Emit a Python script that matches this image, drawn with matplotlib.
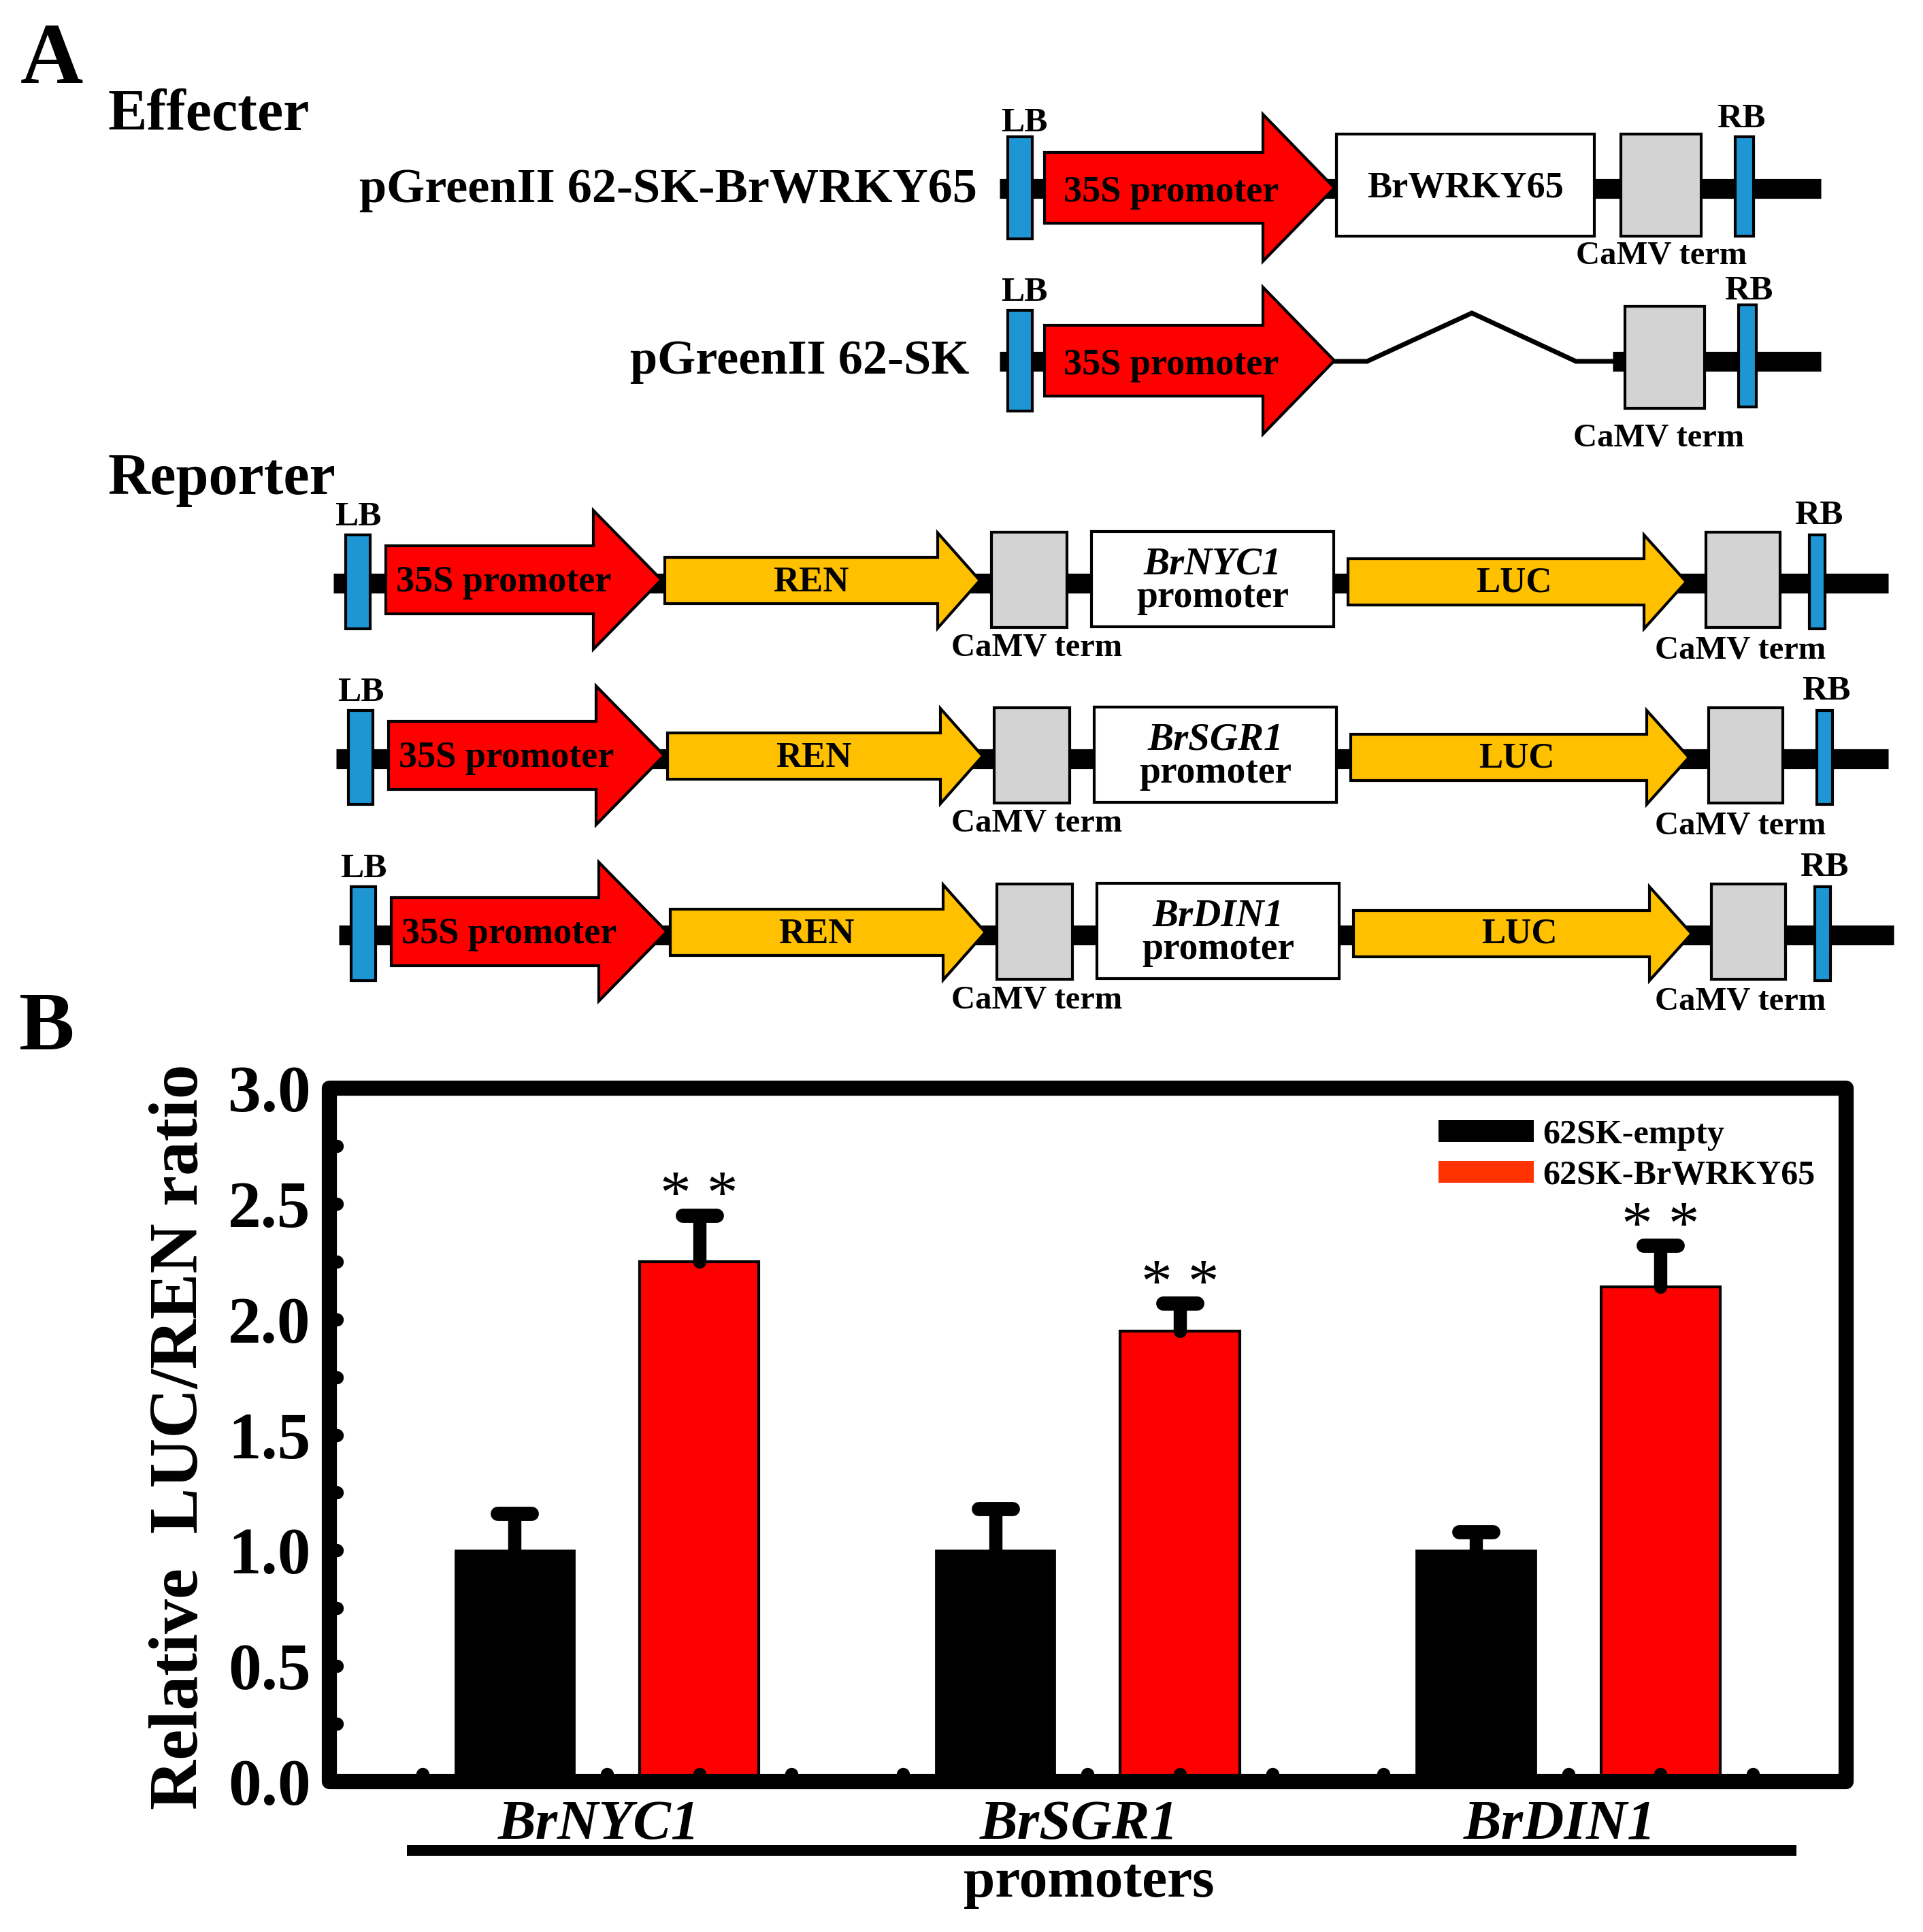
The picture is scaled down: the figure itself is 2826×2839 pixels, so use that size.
import numpy as np
import matplotlib
matplotlib.use("Agg")
import matplotlib.pyplot as plt
from matplotlib.patches import Rectangle, Polygon, Patch
from matplotlib.markers import MarkerStyle
from matplotlib.transforms import ScaledTranslation

plt.rcParams['font.family'] = ['Liberation Serif', 'DejaVu Serif']

# ---- data (panel B) ----
promoters = ['BrNYC1', 'BrSGR1', 'BrDIN1']
series_labels = ['62SK-empty', '62SK-BrWRKY65']
empty_vals = [1.00, 1.00, 1.00]
empty_err = [0.16, 0.18, 0.08]
wrky_vals = [2.25, 1.95, 2.14]
wrky_err = [0.20, 0.12, 0.18]
signif = ['* *', '* *', '* *']
ytick_vals = [0.0, 0.5, 1.0, 1.5, 2.0, 2.5, 3.0]

RED = '#ff0000'
YEL = '#ffc000'
GRY = '#d3d3d3'
BLU = '#1e96d4'

fig = plt.figure(figsize=(28.26, 28.39), dpi=100)

# ---- panel A: construct schematics, drawn in pixel coordinates ----
d = fig.add_axes([0, 0, 1, 1])
d.set_xlim(0, 2826)
d.set_ylim(2839, 0)
d.axis('off')


def rect(x0, x1, yc, h, fc):
    d.add_patch(Rectangle((x0, yc - h), x1 - x0, 2 * h, fc=fc, ec='k', lw=3, zorder=2))


def arrow(x0, xb, xt, yc, hb, hh, fc):
    pts = [(x0, yc - hb), (xb, yc - hb), (xb, yc - hh), (xt, yc),
           (xb, yc + hh), (xb, yc + hb), (x0, yc + hb)]
    d.add_patch(Polygon(pts, closed=True, fc=fc, ec='k', lw=3, joinstyle='miter', zorder=2))


def backbone(x0, x1, y):
    d.plot([x0, x1], [y, y], color='k', lw=21, solid_capstyle='butt', zorder=1)


def label(x, y, s, size, ha='center', weight='bold', style='normal'):
    d.text(x, y, s, fontsize=size, ha=ha, va='baseline', fontweight=weight,
           fontstyle=style, zorder=3)


label(30, 122, 'A', 92, ha='left')
label(159, 191, 'Effecter', 62, ha='left')
label(159, 726, 'Reporter', 62, ha='left')
label(28, 1542, 'B', 88, ha='left')

# effector with BrWRKY65
yc = 276
backbone(1469, 2676, yc + 1)
rect(1481, 1517, yc, 75, BLU)
arrow(1535, 1856, 1961, yc, 52, 108, RED)
rect(1964, 2343, yc - 4, 75, 'white')
rect(2382, 2500, yc - 4, 75, GRY)
rect(2550, 2577, yc - 2, 73, BLU)
label(1436, yc + 21, 'pGreenII 62-SK-BrWRKY65', 52, ha='right')
label(1505, 193, 'LB', 37)
label(2559, 187, 'RB', 37)
label(1721, yc + 20, '35S promoter', 39)
label(2154, yc + 14, 'BrWRKY65', 39)
label(2442, 388, 'CaMV term', 35)

# empty effector
yc = 530
backbone(1469, 1535, yc + 1)
backbone(2370, 2676, yc + 1)
d.plot([1961, 2009, 2163, 2316, 2370], [yc + 1, yc + 1, 460, yc + 1, yc + 1],
       color='k', lw=5, solid_joinstyle='miter', zorder=1)
rect(1481, 1517, yc, 74, BLU)
arrow(1535, 1856, 1961, yc, 52, 108, RED)
rect(2388, 2505, yc - 5, 75, GRY)
rect(2555, 2581, yc - 7, 75, BLU)
label(1424, yc + 19, 'pGreenII 62-SK', 52, ha='right')
label(1505, 442, 'LB', 37)
label(2570, 440, 'RB', 37)
label(1721, yc + 20, '35S promoter', 39)
label(2438, 656, 'CaMV term', 35)

# reporters
rep_y = [852, 1110, 1369]
rep_dx = [0, 4, 8]
rep_rb = [2659, 2670, 2667]
rep_end = [2775, 2775, 2783]
for gene, yc, dx, rb, xe in zip(promoters, rep_y, rep_dx, rep_rb, rep_end):
    backbone(490 + dx, xe, yc + 5)
    rect(508 + dx, 544 + dx, yc + 3, 69, BLU)
    arrow(567 + dx, 872 + dx, 972 + dx, yc, 50, 102, RED)
    arrow(977 + dx, 1378 + dx, 1440 + dx, yc + 1, 34, 70, YEL)
    rect(1457 + dx, 1568 + dx, yc, 70, GRY)
    rect(1604 + dx, 1960 + dx, yc - 1, 70, 'white')
    arrow(1981 + dx, 2416 + dx, 2478 + dx, yc + 3, 34, 69, YEL)
    rect(2507 + dx, 2616 + dx, yc, 70, GRY)
    rect(rb, rb + 23, yc + 3, 69, BLU)
    label(526 + dx, yc - 80, 'LB', 37)
    label(rb + 14, yc - 82, 'RB', 37)
    label(740 + dx, yc + 17, '35S promoter', 39)
    label(1192 + dx, yc + 17, 'REN', 38)
    label(2225 + dx, yc + 17, 'LUC', 38)
    label(1782 + dx, yc - 8, gene, 41, style='italic')
    label(1782 + dx, yc + 40, 'promoter', 40)
    label(1524, yc + 112, 'CaMV term', 35)
    label(2558, yc + 115, 'CaMV term', 35)

# group underline and axis title under panel B
d.plot([598, 2640], [2719, 2719], color='k', lw=11.5, solid_capstyle='butt')
label(1600, 2787, 'promoters', 60)

# ---- panel B: bar chart ----
ax = fig.add_axes([0.1714, 0.0778, 0.7886, 0.359])
x = np.arange(len(promoters))
off = 0.192
w = 0.248

ax.bar(x - off, empty_vals, w, color='black', edgecolor='black', lw=2,
       label=series_labels[0], zorder=1)
ax.bar(x + off, wrky_vals, w, color=RED, edgecolor='black', lw=3,
       label=series_labels[1], zorder=1)

for xs, vals, errs in [(x - off, empty_vals, empty_err), (x + off, wrky_vals, wrky_err)]:
    vals = np.array(vals)
    errs = np.array(errs)
    eb = ax.errorbar(xs, vals, yerr=[np.zeros_like(errs), errs], fmt='none',
                     ecolor='black', elinewidth=14, capsize=0, zorder=3)
    eb.lines[2][0].set_capstyle('round')
    ax.plot(xs, vals + errs, ls='none', color='black',
            marker=MarkerStyle('_', capstyle='round'), ms=36, mew=15, zorder=3)

for xi, v, e, s in zip(x + off, wrky_vals, wrky_err, signif):
    ax.annotate(s, xy=(xi, v + e), xytext=(0, -12), textcoords='offset points',
                ha='center', va='bottom', fontsize=66)

ax.set_xlim(-0.577, 2.578)
ax.set_ylim(0, 3.0)
ax.set_yticks(ytick_vals)
ax.set_yticklabels(['%.1f' % v for v in ytick_vals])
ax.set_yticks(np.arange(0.25, 3.0, 0.5), minor=True)
ax.set_xticks(x)
ax.set_xticklabels(promoters)
ax.set_xticks(np.concatenate([x + k * off for k in (-2, -1, 1, 2)]), minor=True)

ax.tick_params(axis='both', which='both', direction='in', length=8, width=14,
               top=False, right=False)
ax.tick_params(axis='y', which='major', pad=20, labelsize=70)
ax.tick_params(axis='x', which='major', pad=19, labelsize=60)
for t in ax.get_yticklabels():
    t.set_fontweight('bold')
shift = ScaledTranslation(-0.12, 0, fig.dpi_scale_trans)
for t in ax.get_xticklabels():
    t.set_fontweight('bold')
    t.set_fontstyle('italic')
    t.set_transform(t.get_transform() + shift)

for sp in ax.spines.values():
    sp.set_visible(False)
ax.add_patch(Rectangle((0, 0), 1, 1, transform=ax.transAxes, fill=False, ec='black',
                       lw=16, joinstyle='round', clip_on=False, zorder=5))

ax.set_ylabel('Relative  LUC/REN ratio', fontsize=73, fontweight='bold')
ax.yaxis.set_label_coords(-0.0774, 0.4975)

handles = [Patch(facecolor='black'), Patch(facecolor='#ff3300')]
leg = ax.legend(handles, series_labels, loc='upper left', bbox_to_anchor=(0.7312, 0.955),
                frameon=False, borderpad=0, borderaxespad=0, handlelength=2.8,
                handleheight=0.6, handletextpad=0.26, labelspacing=0.28,
                prop={'size': 36, 'weight': 'bold'})

for t in ax.xaxis.get_major_ticks() + ax.xaxis.get_minor_ticks() + \
        ax.yaxis.get_major_ticks() + ax.yaxis.get_minor_ticks():
    for ln in (t.tick1line, t.tick2line):
        ln.set_marker(MarkerStyle(ln.get_marker(), capstyle='round'))

fig.savefig('out.png', dpi=100)
